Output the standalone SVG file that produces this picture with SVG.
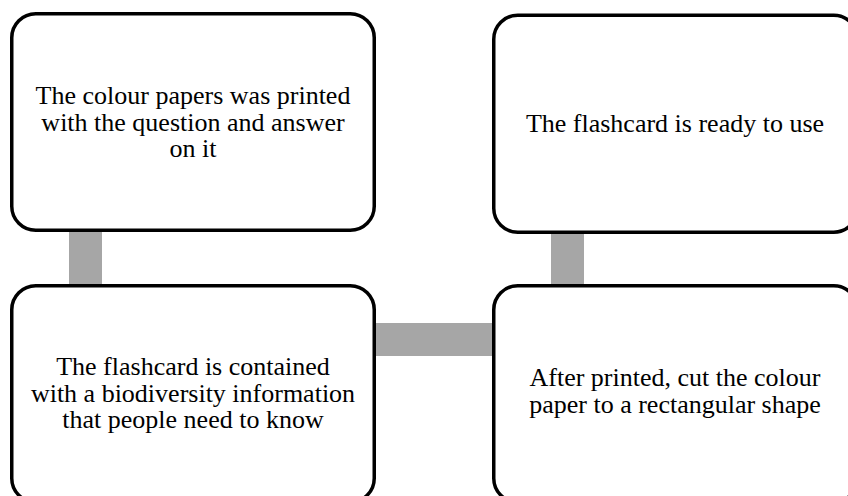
<svg xmlns="http://www.w3.org/2000/svg" width="848" height="496" viewBox="0 0 848 496">
<style>
.box{fill:#fff;stroke:#000;stroke-width:3.5}
.conn{fill:#A6A6A6}
.t{font-family:"Liberation Serif","Times New Roman",serif;font-size:26px;fill:#000;text-anchor:middle}
</style>
<rect width="848" height="496" fill="#fff"/>
<g id="connectors">
<rect class="conn" x="69" y="225" width="33" height="66"/>
<rect class="conn" x="551" y="225" width="33" height="66"/>
<rect class="conn" x="370" y="323" width="130" height="33"/>
</g>
<g id="node1">
<rect class="box" x="11.75" y="13.75" width="362.5" height="216.5" rx="24"/>
<text class="t" x="193" y="104">The colour papers was printed</text>
<text class="t" x="193" y="130.5">with the question and answer</text>
<text class="t" x="193" y="157">on it</text>
</g>
<g id="node2">
<rect class="box" x="11.75" y="285.75" width="362.5" height="216.5" rx="24"/>
<text class="t" x="193" y="375">The flashcard is contained</text>
<text class="t" x="193" y="401.5">with a biodiversity information</text>
<text class="t" x="193" y="428">that people need to know</text>
</g>
<g id="node3">
<rect class="box" x="493.75" y="15.25" width="364" height="217" rx="24"/>
<text class="t" x="675" y="132">The flashcard is ready to use</text>
</g>
<g id="node4">
<rect class="box" x="493.75" y="285.75" width="364" height="216.5" rx="24"/>
<text class="t" x="675" y="386">After printed, cut the colour</text>
<text class="t" x="675" y="412.5">paper to a rectangular shape</text>
</g>
</svg>
